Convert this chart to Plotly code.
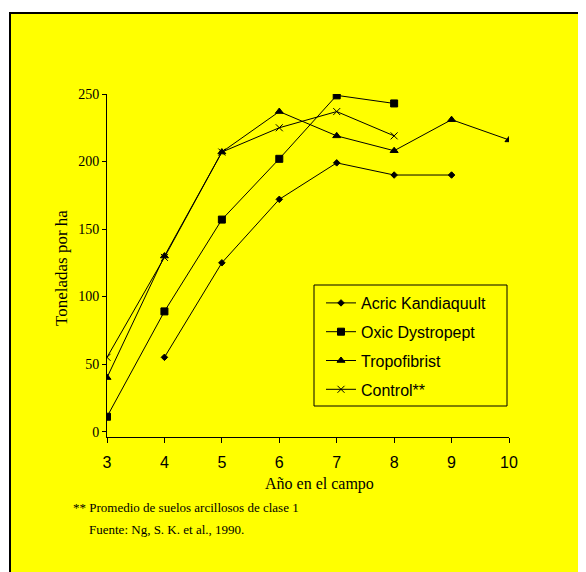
import plotly.graph_objects as go

years = [3, 4, 5, 6, 7, 8, 9, 10]
series_names = ["Acric Kandiaquult", "Oxic Dystropept", "Tropofibrist", "Control**"]
acric = [None, 55, 125, 172, 199, 190, 190, None]
oxic = [11, 89, 157, 202, 249, 243, None, None]
tropo = [40, 130, 207, 237, 219, 208, 231, 216]
control = [55, 129, 207, 225, 237, 219, None, None]
y_ticks = [0, 50, 100, 150, 200, 250]

values = [acric, oxic, tropo, control]
symbols = ["diamond", "square", "triangle-up", "x-thin"]
sizes = [5, 7, 7, 7]

YEL = "#FFFF00"
fig = go.Figure()
for i, (name, vals, sym, sz) in enumerate(zip(series_names, values, symbols, sizes)):
    fig.add_trace(go.Scatter(
        x=years, y=vals, name=name, mode="lines+markers",
        line=dict(color="black", width=1),
        marker=dict(symbol=sym, size=sz, color="black",
                    line=dict(color="black", width=1)),
        legendgroup="g%d" % i,
    ))

OFF = 8  # page body margin
W, H = 586, 572
L, T = 107 - OFF, 94 - OFF
pw, ph = 402, 343
R, B = W - L - pw, H - T - ph

def px(xs):
    return (xs - OFF - L) / pw

def py(ys):
    return (T + ph - (ys - OFF)) / ph

# outer yellow frame
fig.add_shape(type="rect", xref="paper", yref="paper",
              x0=px(10), x1=px(660), y0=py(13), y1=py(660),
              fillcolor=YEL, line=dict(color="black", width=2), layer="below")
# legend frame
fig.add_shape(type="rect", xref="paper", yref="paper",
              x0=px(314), x1=px(507), y0=py(285), y1=py(406),
              fillcolor=YEL, line=dict(color="black", width=1), layer="below")

fig.add_annotation(text="Toneladas por ha", xref="paper", yref="paper",
                   x=px(61), y=py(268), textangle=-90, showarrow=False,
                   xanchor="center", yanchor="middle",
                   font=dict(family="Liberation Serif", size=17, color="black"))
fig.add_annotation(text="Año en el campo", xref="paper", yref="paper",
                   x=px(319), y=py(484), showarrow=False,
                   xanchor="center", yanchor="middle",
                   font=dict(family="Liberation Serif", size=16, color="black"))
fig.add_annotation(text="** Promedio de suelos arcillosos de clase 1", xref="paper", yref="paper",
                   x=px(71), y=py(507), xanchor="left", yanchor="middle", showarrow=False,
                   font=dict(family="Liberation Serif", size=13, color="black"))
fig.add_annotation(text="Fuente: Ng, S. K. et al., 1990.", xref="paper", yref="paper",
                   x=px(87), y=py(529), xanchor="left", yanchor="middle", showarrow=False,
                   font=dict(family="Liberation Serif", size=13, color="black"))

fig.update_layout(
    width=W, height=H,
    margin=dict(l=L, r=R, t=T, b=B, pad=0),
    paper_bgcolor="white", plot_bgcolor=YEL,
    showlegend=True,
    legend=dict(x=px(321), y=py(286), xanchor="left", yanchor="top",
                bgcolor="rgba(0,0,0,0)", borderwidth=0,
                font=dict(family="Liberation Sans", size=16, color="black"),
                tracegroupgap=5, itemwidth=30),
    xaxis=dict(range=[3, 10], tickvals=years, showgrid=False, zeroline=False,
               showline=True, linecolor="black", linewidth=1,
               ticks="outside", ticklen=5, tickcolor="black",
               ticklabelstandoff=6,
               tickfont=dict(family="Liberation Sans", size=16, color="black")),
    yaxis=dict(range=[-4, 250], tickvals=y_ticks, showgrid=False, zeroline=False,
               showline=True, linecolor="black", linewidth=1,
               ticks="outside", ticklen=4, tickcolor="black",
               tickfont=dict(family="Liberation Serif", size=14, color="black")),
)

fig.write_html("out.html")
